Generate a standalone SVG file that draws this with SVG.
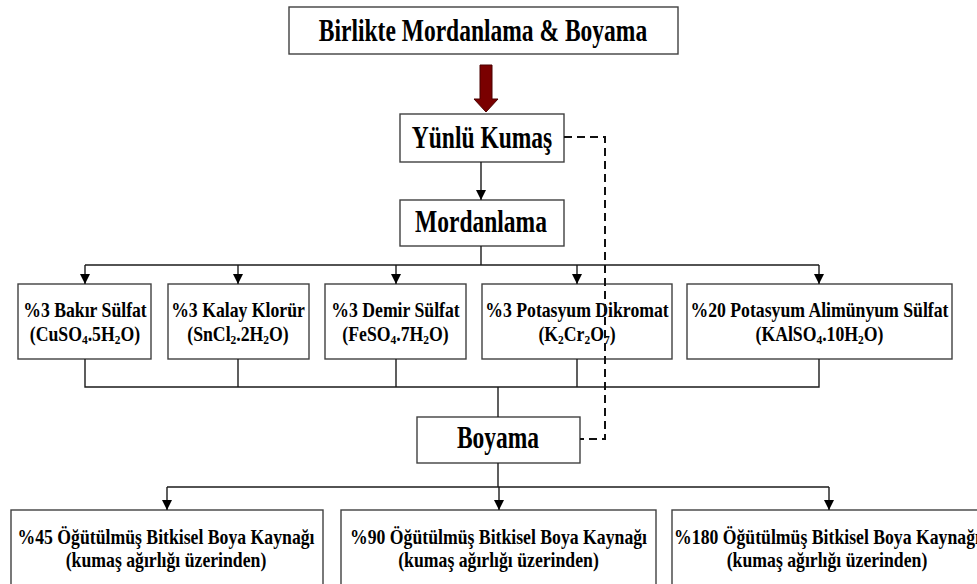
<svg xmlns="http://www.w3.org/2000/svg" width="977" height="584" viewBox="0 0 977 584">
<defs>
<style>
.box{fill:#fff;stroke:#404040;stroke-width:1.4}
.big{font-family:"Liberation Serif","Times New Roman",serif;font-weight:bold;font-size:23.5px;fill:#000;text-anchor:middle}
.sm{font-family:"Liberation Serif","Times New Roman",serif;font-weight:bold;font-size:17.7px;fill:#000;text-anchor:middle}
.sub{font-size:11.5px}
.ln{fill:none;stroke:#1a1a1a;stroke-width:1.4}
.dash{fill:none;stroke:#111;stroke-width:2;stroke-dasharray:8,5}
</style>
<marker id="ah" viewBox="0 0 10 10" refX="10" refY="5" markerWidth="10" markerHeight="10" markerUnits="userSpaceOnUse" orient="auto">
<path d="M0,0 L10,5 L0,10 Z" fill="#000"/>
</marker>
</defs>
<rect width="977" height="584" fill="#fff"/>

<g id="title">
<rect class="box" x="289" y="7" width="389" height="47"/>
<text class="big" transform="translate(483,41) scale(1,1.3)">Birlikte Mordanlama &amp; Boyama</text>
</g>

<g id="red-arrow">
<polygon points="480,65 492,65 492,99 498,99 486,112 474,99 480,99" fill="#7a0000" stroke="#4a0000" stroke-width="1"/>
</g>

<g id="yunlu">
<rect class="box" x="400" y="114" width="164" height="48"/>
<text class="big" transform="translate(482,148) scale(1,1.3)">Yünlü Kumaş</text>
</g>

<g id="mordanlama">
<rect class="box" x="400" y="200" width="164" height="46"/>
<text class="big" transform="translate(481,232) scale(1,1.3)">Mordanlama</text>
</g>

<g id="m1">
<rect class="box" x="18" y="284" width="133" height="75"/>
<text class="sm" transform="translate(85,316.5) scale(1,1.17)">%3 Bakır Sülfat</text>
<text class="sm" transform="translate(85,340.5) scale(1,1.17)">(CuSO<tspan class="sub" dy="3">4</tspan><tspan dy="-3">.5H</tspan><tspan class="sub" dy="3">2</tspan><tspan dy="-3">O)</tspan></text>
</g>

<g id="m2">
<rect class="box" x="168" y="284" width="141" height="75"/>
<text class="sm" transform="translate(238,316.5) scale(1,1.17)">%3 Kalay Klorür</text>
<text class="sm" transform="translate(238,340.5) scale(1,1.17)">(SnCl<tspan class="sub" dy="3">2</tspan><tspan dy="-3">.2H</tspan><tspan class="sub" dy="3">2</tspan><tspan dy="-3">O)</tspan></text>
</g>

<g id="m3">
<rect class="box" x="325" y="284" width="141" height="75"/>
<text class="sm" transform="translate(395.5,316.5) scale(1,1.17)">%3 Demir Sülfat</text>
<text class="sm" transform="translate(395.5,340.5) scale(1,1.17)">(FeSO<tspan class="sub" dy="3">4</tspan><tspan dy="-3">.7H</tspan><tspan class="sub" dy="3">2</tspan><tspan dy="-3">O)</tspan></text>
</g>

<g id="m4">
<rect class="box" x="482" y="284" width="190" height="75"/>
<text class="sm" transform="translate(577,316.5) scale(1,1.17)">%3 Potasyum Dikromat</text>
<text class="sm" transform="translate(577,340.5) scale(1,1.17)">(K<tspan class="sub" dy="3">2</tspan><tspan dy="-3">Cr</tspan><tspan class="sub" dy="3">2</tspan><tspan dy="-3">O</tspan><tspan class="sub" dy="3">7</tspan><tspan dy="-3">)</tspan></text>
</g>

<g id="m5">
<rect class="box" x="687" y="284" width="265" height="75"/>
<text class="sm" transform="translate(819.5,316.5) scale(1,1.17)">%20 Potasyum Alimünyum Sülfat</text>
<text class="sm" transform="translate(819.5,340.5) scale(1,1.17)">(KAlSO<tspan class="sub" dy="3">4</tspan><tspan dy="-3">.10H</tspan><tspan class="sub" dy="3">2</tspan><tspan dy="-3">O)</tspan></text>
</g>

<g id="boyama">
<rect class="box" x="417" y="417" width="163" height="46"/>
<text class="big" transform="translate(498,448) scale(1,1.3)">Boyama</text>
</g>

<g id="b1">
<rect class="box" x="11" y="510" width="312" height="100"/>
<text class="sm" transform="translate(166,544) scale(1,1.2)">%45 Öğütülmüş Bitkisel Boya Kaynağı</text>
<text class="sm" transform="translate(166,567) scale(1,1.2)">(kumaş ağırlığı üzerinden)</text>
</g>

<g id="b2">
<rect class="box" x="341" y="510" width="315" height="100"/>
<text class="sm" transform="translate(498.5,544) scale(1,1.2)">%90 Öğütülmüş Bitkisel Boya Kaynağı</text>
<text class="sm" transform="translate(498.5,567) scale(1,1.2)">(kumaş ağırlığı üzerinden)</text>
</g>

<g id="b3">
<rect class="box" x="672" y="510" width="312" height="100"/>
<text class="sm" transform="translate(827,544) scale(1,1.2)">%180 Öğütülmüş Bitkisel Boya Kaynağı</text>
<text class="sm" transform="translate(827,567) scale(1,1.2)">(kumaş ağırlığı üzerinden)</text>
</g>

<g id="connectors">
<path class="ln" d="M481,162 V200" marker-end="url(#ah)"/>
<path class="ln" d="M481,246 V265"/>
<path class="ln" d="M85,265 H819"/>
<path class="ln" d="M85,265 V284" marker-end="url(#ah)"/>
<path class="ln" d="M238,265 V284" marker-end="url(#ah)"/>
<path class="ln" d="M396,265 V284" marker-end="url(#ah)"/>
<path class="ln" d="M577,265 V284" marker-end="url(#ah)"/>
<path class="ln" d="M819,265 V284" marker-end="url(#ah)"/>
<path class="ln" d="M85,359 V387 H819 V359"/>
<path class="ln" d="M238,359 V387"/>
<path class="ln" d="M396,359 V387"/>
<path class="ln" d="M577,359 V387"/>
<path class="ln" d="M498,387 V417"/>
<path class="ln" d="M498,463 V487"/>
<path class="ln" d="M167,487 H829"/>
<path class="ln" d="M167,487 V510" marker-end="url(#ah)"/>
<path class="ln" d="M499,487 V510" marker-end="url(#ah)"/>
<path class="ln" d="M829,487 V510" marker-end="url(#ah)"/>
<path class="dash" d="M564,137 H605 V439 H580"/>
</g>
</svg>
